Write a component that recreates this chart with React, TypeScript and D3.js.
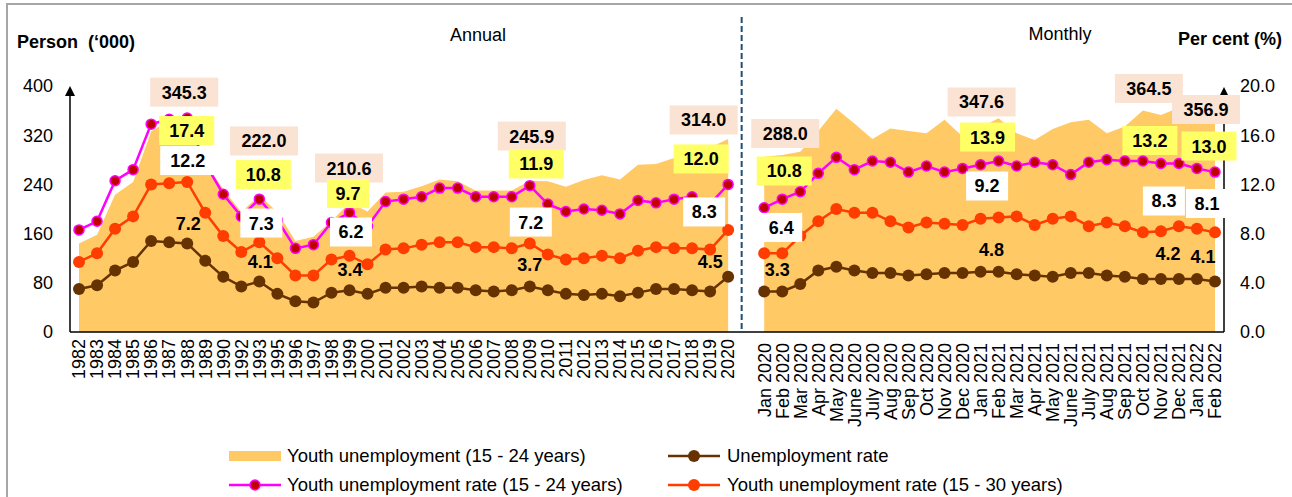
import React from 'react';
import * as d3 from 'd3';

// ---------- DATA ----------
const years = ['1982','1983','1984','1985','1986','1987','1988','1989','1990','1992','1993','1995','1996','1997','1998','1999','2000','2001','2002','2003','2004','2005','2006','2007','2008','2009','2010','2011','2012','2013','2014','2015','2016','2017','2018','2019','2020'];
const months = ['Jan 2020','Feb 2020','Mar 2020','Apr 2020','May 2020','June 2020','July 2020','Aug 2020','Sep 2020','Oct 2020','Nov 2020','Dec 2020','Jan 2021','Feb 2021','Mar 2021','Apr 2021','May 2021','June 2021','July 2021','Aug 2021','Sep 2021','Oct 2021','Nov 2021','Dec 2021','Jan 2022','Feb 2022'];

// Youth unemployment (15-24 years), '000 persons
const youthUnempAnnual = [144,158,223,244,326,345.3,338,275,232,195,222.0,195,148,155,180,210.6,196,227,228,237,248,245,230,230,230,245.9,245,236,247,255,248,272,273,283,291,300,314.0];
const youthUnempMonthly = [285,288.0,293,327,363,339,314,331,327,323,345,318,333,347.6,323,312,330,341,345,323,334,360,353,364.5,360,356.9];

// Unemployment rate, %
const unempRateAnnual = [3.5,3.8,5.0,5.7,7.4,7.3,7.2,5.8,4.5,3.7,4.1,3.1,2.5,2.4,3.2,3.4,3.1,3.6,3.6,3.7,3.6,3.6,3.4,3.3,3.4,3.7,3.4,3.1,3.0,3.1,2.9,3.2,3.5,3.5,3.4,3.3,4.5];
const unempRateMonthly = [3.3,3.3,3.9,5.0,5.3,5.0,4.8,4.8,4.6,4.7,4.8,4.8,4.9,4.9,4.7,4.6,4.5,4.8,4.8,4.6,4.5,4.3,4.3,4.3,4.3,4.1];

// Youth unemployment rate (15-24 years), %
const youth24RateAnnual = [8.3,9.0,12.3,13.2,16.9,17.3,17.4,13.7,11.2,9.4,10.8,9.1,6.8,7.1,8.9,9.7,8.6,10.6,10.8,11.0,11.7,11.7,11.0,11.0,11.0,11.9,10.4,9.8,10.0,9.9,9.6,10.7,10.5,10.8,11.0,10.4,12.0];
const youth24RateMonthly = [10.1,10.8,11.4,12.9,14.2,13.2,13.9,13.8,13.0,13.5,13.0,13.3,13.6,13.9,13.5,13.8,13.6,12.8,13.8,14.0,13.9,13.9,13.7,13.7,13.3,13.0];

// Youth unemployment rate (15-30 years), %
const youth30RateAnnual = [5.7,6.4,8.4,9.4,12.0,12.1,12.2,9.7,7.8,6.5,7.3,6.0,4.6,4.6,5.9,6.2,5.5,6.7,6.8,7.1,7.3,7.3,6.9,6.9,6.8,7.2,6.3,5.9,6.0,6.2,6.0,6.6,6.9,6.8,6.8,6.7,8.3];
const youth30RateMonthly = [6.4,6.4,7.8,9.0,10.0,9.7,9.7,9.0,8.5,8.9,8.8,8.7,9.2,9.3,9.4,8.7,9.2,9.4,8.6,8.9,8.6,8.1,8.2,8.6,8.4,8.1];

const leftTicks = [0, 80, 160, 240, 320, 400];
const rightTicks = [0, 4, 8, 12, 16, 20];

// Data label annotations: category, text, box style, label centre (in % axis units), horizontal nudge
const annotations = [
  { cat: '1988', text: '345.3', kind: 'pink', pct: 19.5, dx: -3 },
  { cat: '1988', text: '17.4', kind: 'yellow', pct: 16.38, dx: -0.5 },
  { cat: '1988', text: '12.2', kind: 'white', pct: 13.94, dx: 0.5 },
  { cat: '1988', text: '7.2', kind: 'none', pct: 8.86, dx: 1 },
  { cat: '1993', text: '222.0', kind: 'pink', pct: 15.53, dx: 4.7 },
  { cat: '1993', text: '10.8', kind: 'yellow', pct: 12.8, dx: 4 },
  { cat: '1993', text: '7.3', kind: 'white', pct: 8.86, dx: 2 },
  { cat: '1993', text: '4.1', kind: 'none', pct: 5.69, dx: 1 },
  { cat: '1999', text: '210.6', kind: 'pink', pct: 13.33, dx: -0.5 },
  { cat: '1999', text: '9.7', kind: 'yellow', pct: 11.26, dx: -1.5 },
  { cat: '1999', text: '6.2', kind: 'white', pct: 8.13, dx: 1.5 },
  { cat: '1999', text: '3.4', kind: 'none', pct: 5.04, dx: 0.5 },
  { cat: '2009', text: '245.9', kind: 'pink', pct: 15.93, dx: 2 },
  { cat: '2009', text: '11.9', kind: 'yellow', pct: 13.66, dx: 6.5 },
  { cat: '2009', text: '7.2', kind: 'white', pct: 8.94, dx: 1 },
  { cat: '2009', text: '3.7', kind: 'none', pct: 5.45, dx: 0 },
  { cat: '2020', text: '314.0', kind: 'pink', pct: 17.24, dx: -24.5 },
  { cat: '2020', text: '12.0', kind: 'yellow', pct: 14.07, dx: -27 },
  { cat: '2020', text: '8.3', kind: 'white', pct: 9.76, dx: -24 },
  { cat: '2020', text: '4.5', kind: 'none', pct: 5.69, dx: -18 },
  { cat: 'Feb 2020', text: '288.0', kind: 'pink', pct: 16.14, dx: 3 },
  { cat: 'Feb 2020', text: '10.8', kind: 'yellow', pct: 13.09, dx: 2 },
  { cat: 'Feb 2020', text: '6.4', kind: 'white', pct: 8.5, dx: -1 },
  { cat: 'Feb 2020', text: '3.3', kind: 'none', pct: 5.04, dx: -5 },
  { cat: 'Jan 2021', text: '347.6', kind: 'pink', pct: 18.7, dx: 1 },
  { cat: 'Jan 2021', text: '13.9', kind: 'yellow', pct: 15.85, dx: 7 },
  { cat: 'Jan 2021', text: '9.2', kind: 'white', pct: 11.87, dx: 6.5 },
  { cat: 'Jan 2021', text: '4.8', kind: 'none', pct: 6.67, dx: 11 },
  { cat: 'Nov 2021', text: '364.5', kind: 'pink', pct: 19.8, dx: -12 },
  { cat: 'Nov 2021', text: '13.2', kind: 'yellow', pct: 15.57, dx: -11 },
  { cat: 'Nov 2021', text: '8.3', kind: 'white', pct: 10.65, dx: 3 },
  { cat: 'Nov 2021', text: '4.2', kind: 'none', pct: 6.42, dx: 7 },
  { cat: 'Feb 2022', text: '356.9', kind: 'pink', pct: 18.09, dx: -9 },
  { cat: 'Feb 2022', text: '13.0', kind: 'yellow', pct: 15.12, dx: -6 },
  { cat: 'Feb 2022', text: '8.1', kind: 'white', pct: 10.45, dx: -8 },
  { cat: 'Feb 2022', text: '4.1', kind: 'none', pct: 6.1, dx: -12 },
];

// ---------- STYLE ----------
const FONT = "'Liberation Sans', Arial, Helvetica, sans-serif";
const C_AREA = '#FFC966';
const C_BROWN = '#663300';
const C_MAG = '#FF00FF';
const C_MAGDOT = '#C00000';
const C_ORANGE = '#FF3D00';
const BOX_FILL: Record<string, string> = { pink: '#FBE3D4', yellow: '#FFFF66', white: '#FFFFFF' };

const W = 1292, H = 497;
const PL = 70, PR = 1224, PT = 86, PB = 332;

export default function App() {
  const GAP = '__gap__';
  const cats = [...years, GAP, ...months];
  const xb = d3.scaleBand<string>().domain(cats).range([PL, PR]).padding(0);
  const xc = (c: string) => (xb(c) as number) + xb.bandwidth() / 2;
  const yL = d3.scaleLinear().domain([0, 400]).range([PB, PT]);
  const yR = d3.scaleLinear().domain([0, 20]).range([PB, PT]);

  type P = { c: string; v: number };
  const zip = (cs: string[], vs: number[]): P[] => cs.map((c, i) => ({ c, v: vs[i] }));

  const area = d3.area<P>().x(d => xc(d.c)).y0(yL(0)).y1(d => yL(d.v));
  const lineR = d3.line<P>().x(d => xc(d.c)).y(d => yR(d.v));

  const segments = [
    { cs: years, area: youthUnempAnnual, u: unempRateAnnual, y24: youth24RateAnnual, y30: youth30RateAnnual },
    { cs: months, area: youthUnempMonthly, u: unempRateMonthly, y24: youth24RateMonthly, y30: youth30RateMonthly },
  ];

  const divX = xc('2020') + xb.bandwidth() * 0.75;

  return (
    <div style={{ position: 'absolute', left: 0, top: 0 }}>
      <svg width={W} height={H} style={{ display: 'block', background: '#fff' }} fontFamily={FONT}>
        {/* frame */}
        <line x1={7} y1={4} x2={7} y2={H + 5} stroke="#A6A6A6" strokeWidth={2} />
        <line x1={6} y1={4} x2={W + 5} y2={4} stroke="#A6A6A6" strokeWidth={2} />

        {/* areas */}
        {segments.map((s, i) => (
          <path key={'a' + i} d={area(zip(s.cs, s.area)) || ''} fill={C_AREA} />
        ))}

        {/* divider */}
        <line x1={divX} y1={17} x2={divX} y2={PB} stroke="#1F4E79" strokeWidth={2} strokeDasharray="6,3" />

        {/* axes */}
        <line x1={PL} y1={PB} x2={PR} y2={PB} stroke="#000" strokeWidth={1.5} />
        <line x1={PL} y1={PB} x2={PL} y2={PT + 8} stroke="#000" strokeWidth={1.5} />
        <path d={`M${PL},${PT} L${PL - 5},${PT + 10} L${PL + 5},${PT + 10} Z`} fill="#000" />
        <line x1={PR} y1={PB} x2={PR} y2={PT + 8} stroke="#000" strokeWidth={1.5} />
        <path d={`M${PR},${PT + 1} L${PR - 4},${PT + 9} L${PR + 4},${PT + 9} Z`} fill="#000" />

        {/* tick labels */}
        {leftTicks.map(t => (
          <text key={'l' + t} x={53} y={yL(t)} dy="0.35em" textAnchor="end" fontSize={18}>{t}</text>
        ))}
        {rightTicks.map(t => (
          <text key={'r' + t} x={1240} y={yR(t)} dy="0.35em" textAnchor="start" fontSize={18}>{t.toFixed(1)}</text>
        ))}
        {years.map(c => (
          <text key={'xy' + c} transform={`translate(${xc(c)},339) rotate(-90)`} textAnchor="end" dy="0.35em" fontSize={18}>{c}</text>
        ))}
        {months.map(c => (
          <text key={'xm' + c} transform={`translate(${xc(c)},343) rotate(-90)`} textAnchor="end" dy="0.35em" fontSize={18}>{c}</text>
        ))}

        {/* lines */}
        {segments.map((s, i) => (
          <g key={'ln' + i}>
            <path d={lineR(zip(s.cs, s.u)) || ''} fill="none" stroke={C_BROWN} strokeWidth={2.5} />
            {zip(s.cs, s.u).map(d => (
              <circle key={'u' + d.c} cx={xc(d.c)} cy={yR(d.v)} r={6} fill={C_BROWN} />
            ))}
            <path d={lineR(zip(s.cs, s.y30)) || ''} fill="none" stroke={C_ORANGE} strokeWidth={2.5} />
            {zip(s.cs, s.y30).map(d => (
              <circle key={'o' + d.c} cx={xc(d.c)} cy={yR(d.v)} r={6} fill={C_ORANGE} />
            ))}
            <path d={lineR(zip(s.cs, s.y24)) || ''} fill="none" stroke={C_MAG} strokeWidth={2.5} />
            {zip(s.cs, s.y24).map(d => (
              <circle key={'m' + d.c} cx={xc(d.c)} cy={yR(d.v)} r={5} fill={C_MAGDOT} stroke={C_MAG} strokeWidth={1.5} />
            ))}
          </g>
        ))}

        {/* data labels */}
        {annotations.map((a, i) => {
          const cx = xc(a.cat) + a.dx;
          const cy = yR(a.pct);
          const w = 13 * a.text.length + 3;
          const h = 29;
          return (
            <g key={'an' + i}>
              {a.kind !== 'none' && (
                <rect x={cx - w / 2} y={cy - h / 2} width={w} height={h} fill={BOX_FILL[a.kind]} />
              )}
              <text x={cx} y={cy} dy="0.36em" textAnchor="middle" fontSize={18} fontWeight="bold">{a.text}</text>
            </g>
          );
        })}

        {/* titles */}
        <text x={17} y={48} fontSize={18} fontWeight="bold" style={{ whiteSpace: 'pre' }}>{'Person  (‘000)'}</text>
        <text x={1178} y={45} fontSize={18} fontWeight="bold">Per cent (%)</text>
        <text x={478} y={35} dy="0.35em" textAnchor="middle" fontSize={18}>Annual</text>
        <text x={1060} y={34} dy="0.35em" textAnchor="middle" fontSize={18}>Monthly</text>

        {/* legend */}
        <g fontSize={18.5}>
          <rect x={229} y={451} width={52} height={10} fill={C_AREA} />
          <text x={287} y={456} dy="0.35em">Youth unemployment (15 - 24 years)</text>

          <line x1={668} y1={456} x2={720} y2={456} stroke={C_BROWN} strokeWidth={2.5} />
          <circle cx={694} cy={456} r={6} fill={C_BROWN} />
          <text x={727} y={456} dy="0.35em">Unemployment rate</text>

          <line x1={229} y1={485} x2={281} y2={485} stroke={C_MAG} strokeWidth={2.5} />
          <circle cx={255} cy={485} r={5} fill={C_MAGDOT} stroke={C_MAG} strokeWidth={1.5} />
          <text x={287} y={485} dy="0.35em">Youth unemployment rate (15 - 24 years)</text>

          <line x1={668} y1={485} x2={720} y2={485} stroke={C_ORANGE} strokeWidth={2.5} />
          <circle cx={694} cy={485} r={6} fill={C_ORANGE} />
          <text x={727} y={485} dy="0.35em">Youth unemployment rate (15 - 30 years)</text>
        </g>
      </svg>
    </div>
  );
}
